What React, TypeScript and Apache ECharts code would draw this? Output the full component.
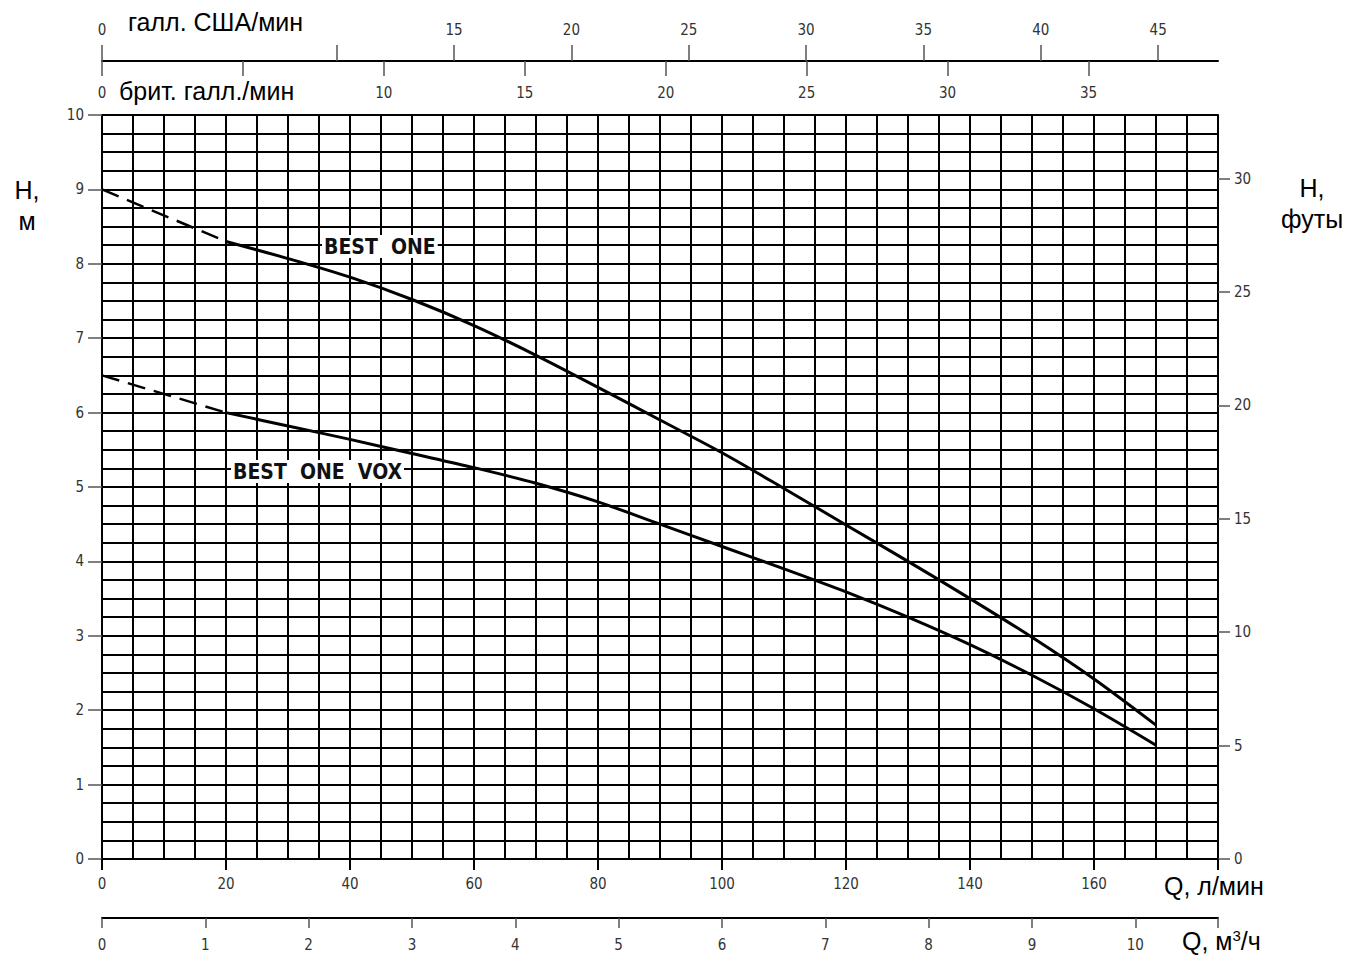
import React, { useEffect, useRef } from "react";
import * as echarts from "echarts";

// ---- data ----
const flowLpm = [20, 30, 40, 50, 60, 70, 80, 90, 100, 110, 120, 130, 140, 150, 160, 170];
const bestOneH = [8.3, 8.07, 7.82, 7.52, 7.17, 6.77, 6.34, 5.9, 5.46, 4.98, 4.49, 4.0, 3.5, 2.98, 2.42, 1.8];
const bestOneVoxH = [6.0, 5.82, 5.64, 5.45, 5.26, 5.05, 4.8, 4.5, 4.2, 3.9, 3.59, 3.25, 2.88, 2.47, 2.02, 1.53];
const dashedFlow = [0, 20];
const bestOneDashedH = [9.0, 8.3];
const bestOneVoxDashedH = [6.5, 6.0];

const lpmTicks = [0, 20, 40, 60, 80, 100, 120, 140, 160, 180];
const lpmLabels = [0, 20, 40, 60, 80, 100, 120, 140, 160];
const usGalTicks = [0, 10, 15, 20, 25, 30, 35, 40, 45];
const usGalLabels = [0, 15, 20, 25, 30, 35, 40, 45];
const ukGalTicks = [0, 5, 10, 15, 20, 25, 30, 35];
const ukGalLabels = [0, 10, 15, 20, 25, 30, 35];
const m3hTicks = [0, 1, 2, 3, 4, 5, 6, 7, 8, 9, 10];
const metreTicks = [0, 1, 2, 3, 4, 5, 6, 7, 8, 9, 10];
const feetTicks = [0, 5, 10, 15, 20, 25, 30];

const Q_MAX = 180;
const H_MAX = 10;
const L_PER_US_GAL = 3.78541;
const L_PER_UK_GAL = 4.54609;
const LPM_PER_M3H = 1000 / 60;
const M_PER_FT = 0.3048;

const tickFont = {
  fontFamily: "'Liberation Sans Narrow', 'DejaVu Sans Condensed', 'Liberation Sans', Arial, sans-serif",
  fontSize: 15,
  color: "#333",
};
const unitFont = {
  fontFamily: "'Liberation Sans', Arial, sans-serif",
  fontSize: 25,
  fill: "#000",
};
const curveFont = {
  fontFamily: "'DejaVu Sans Condensed', 'DejaVu Sans', sans-serif",
  fontWeight: "bold",
  fontSize: 21,
  fill: "#111",
  backgroundColor: "#fff",
  padding: [1, 2],
};
const tickStyle = { color: "#555", width: 1.5 };
const black = { color: "#000", width: 2 };

const pair = (xs: number[], ys: number[]) => xs.map((x, i) => [x, ys[i]]);
const onlyIn = (list: number[]) => (v: number) =>
  list.some((t) => Math.abs(t - v) < 1e-6) ? String(v) : "";

export default function App() {
  const ref = useRef<HTMLDivElement>(null);
  useEffect(() => {
    if (!ref.current) return;
    const chart = echarts.init(ref.current, null, { renderer: "svg" });
    const option: any = {
      animation: false,
      grid: { left: 102, right: 131, top: 115, bottom: 100, containLabel: false },
      xAxis: [
        {
          type: "value", min: 0, max: Q_MAX, interval: 5, position: "bottom",
          axisLine: { show: true, onZero: false, lineStyle: black },
          axisTick: { show: false }, axisLabel: { show: false },
          splitLine: { show: true, lineStyle: black },
        },
        {
          type: "value", min: 0, max: Q_MAX, interval: 20, position: "bottom",
          axisLine: { show: false, onZero: false },
          axisTick: { show: true, length: 11, lineStyle: black, customValues: lpmTicks },
          axisLabel: { ...tickFont, margin: 17, customValues: lpmLabels, formatter: onlyIn(lpmLabels) },
          splitLine: { show: false },
        },
        {
          type: "value", min: 0, max: Q_MAX / L_PER_US_GAL, interval: 5, position: "top", offset: 54,
          axisLine: { show: true, onZero: false, lineStyle: black },
          axisTick: { show: true, length: 16, lineStyle: tickStyle, customValues: usGalTicks },
          axisLabel: { ...tickFont, margin: 24, customValues: usGalLabels, formatter: onlyIn(usGalLabels) },
          splitLine: { show: false },
        },
        {
          type: "value", min: 0, max: Q_MAX / L_PER_UK_GAL, interval: 5, position: "top", offset: 54,
          axisLine: { show: false, onZero: false },
          axisTick: { show: true, inside: true, length: 15, lineStyle: tickStyle, customValues: ukGalTicks },
          axisLabel: { ...tickFont, inside: true, margin: 24, customValues: ukGalLabels, formatter: onlyIn(ukGalLabels) },
          splitLine: { show: false },
        },
        {
          type: "value", min: 0, max: Q_MAX / LPM_PER_M3H, interval: 1, position: "bottom", offset: 59,
          axisLine: { show: true, onZero: false, lineStyle: black },
          axisTick: { show: true, length: 10, lineStyle: tickStyle, customValues: [...m3hTicks, Q_MAX / LPM_PER_M3H] },
          axisLabel: { ...tickFont, margin: 19, customValues: m3hTicks, formatter: onlyIn(m3hTicks) },
          splitLine: { show: false },
        },
      ],
      yAxis: [
        {
          type: "value", min: 0, max: H_MAX, interval: 0.25, position: "left",
          axisLine: { show: true, onZero: false, lineStyle: black },
          axisTick: { show: false }, axisLabel: { show: false },
          splitLine: { show: true, lineStyle: black },
        },
        {
          type: "value", min: 0, max: H_MAX, interval: 1, position: "left",
          axisLine: { show: false, onZero: false },
          axisTick: { show: true, length: 14, lineStyle: tickStyle, customValues: metreTicks },
          axisLabel: { ...tickFont, margin: 18, customValues: metreTicks, formatter: onlyIn(metreTicks) },
          splitLine: { show: false },
        },
        {
          type: "value", min: 0, max: H_MAX / M_PER_FT, interval: 5, position: "right",
          axisLine: { show: true, onZero: false, lineStyle: black },
          axisTick: { show: true, length: 12, lineStyle: tickStyle, customValues: feetTicks },
          axisLabel: { ...tickFont, margin: 16, customValues: feetTicks, formatter: onlyIn(feetTicks) },
          splitLine: { show: false },
        },
      ],
      series: [
        {
          name: "BEST ONE (dashed)", type: "line", xAxisIndex: 0, yAxisIndex: 0,
          data: pair(dashedFlow, bestOneDashedH), showSymbol: false, symbol: "none",
          lineStyle: { color: "#000", width: 2.5, type: [18, 9] }, z: 5,
        },
        {
          name: "BEST ONE", type: "line", xAxisIndex: 0, yAxisIndex: 0,
          data: pair(flowLpm, bestOneH), showSymbol: false, symbol: "none",
          smooth: 0.3,
          lineStyle: { color: "#000", width: 3 }, z: 5,
        },
        {
          name: "BEST ONE VOX (dashed)", type: "line", xAxisIndex: 0, yAxisIndex: 0,
          data: pair(dashedFlow, bestOneVoxDashedH), showSymbol: false, symbol: "none",
          lineStyle: { color: "#000", width: 2.5, type: [18, 9] }, z: 5,
        },
        {
          name: "BEST ONE VOX", type: "line", xAxisIndex: 0, yAxisIndex: 0,
          data: pair(flowLpm, bestOneVoxH), showSymbol: false, symbol: "none",
          smooth: 0.3,
          lineStyle: { color: "#000", width: 3 }, z: 5,
        },
      ],
      graphic: [
        { type: "text", left: 128, top: 9, style: { ...unitFont, text: "галл. США/мин" } },
        { type: "text", left: 119, top: 78, style: { ...unitFont, text: "брит. галл./мин" } },
        { type: "text", left: 1164, top: 873, style: { ...unitFont, text: "Q, л/мин", backgroundColor: "#fff" } },
        {
          type: "text", left: 1182, top: 928,
          style: {
            ...unitFont, backgroundColor: "#fff",
            text: "Q, м{sup|3}/ч",
            rich: { sup: { fontFamily: unitFont.fontFamily, fontSize: 15, fill: "#000", verticalAlign: "top", padding: [0, 0, 10, 0] } },
          },
        },
        { type: "text", x: 27, y: 174, style: { ...unitFont, text: "H,\nм", align: "center", lineHeight: 31 } },
        { type: "text", x: 1312, y: 172, style: { ...unitFont, text: "H,\nфуты", align: "center", lineHeight: 31 } },
        { type: "text", left: 322, top: 235, z: 10, style: { ...curveFont, text: "BEST  ONE" } },
        { type: "text", left: 231, top: 460, z: 10, style: { ...curveFont, text: "BEST  ONE  VOX" } },
      ],
    };
    chart.setOption(option);
    return () => chart.dispose();
  }, []);
  return <div ref={ref} style={{ position: "absolute", left: 0, top: 0, width: 1349, height: 959 }} />;
}
